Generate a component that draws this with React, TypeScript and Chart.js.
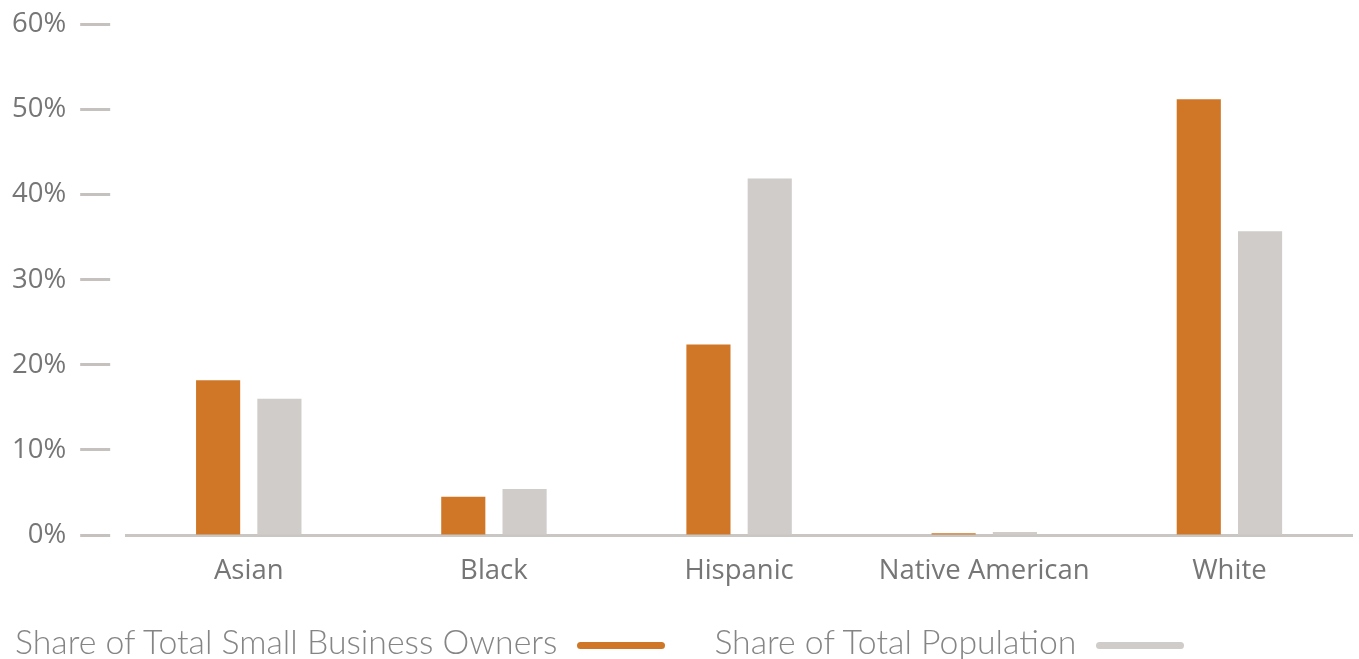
import React, { useEffect, useRef } from "react";
import { Chart, registerables } from "chart.js";

Chart.register(...registerables);

const categories = ["Asian", "Black", "Hispanic", "Native American", "White"];
const ownersShare = [18.2, 4.5, 22.4, 0.2, 51.2];
const populationShare = [16.0, 5.4, 41.9, 0.35, 35.7];
const seriesNames = ["Share of Total Small Business Owners", "Share of Total Population"];
const seriesColors = ["#D07727", "#CFCCC9"];
const yTicksMax = 60;
const yStep = 10;

export default function App() {
  const canvasRef = useRef<HTMLCanvasElement | null>(null);

  useEffect(() => {
    if (!canvasRef.current) return;
    const chart = new Chart(canvasRef.current, {
      type: "bar",
      data: {
        labels: categories,
        datasets: [
          {
            label: seriesNames[0],
            data: ownersShare,
            backgroundColor: seriesColors[0],
            categoryPercentage: 0.5,
            barPercentage: 0.72,
          },
          {
            label: seriesNames[1],
            data: populationShare,
            backgroundColor: seriesColors[1],
            categoryPercentage: 0.5,
            barPercentage: 0.72,
          },
        ],
      },
      options: {
        animation: false,
        responsive: true,
        maintainAspectRatio: false,
        layout: { padding: { top: 0, right: 7, bottom: 45, left: -2 } },
        plugins: {
          legend: { display: false },
          tooltip: { enabled: false },
        },
        scales: {
          x: {
            grid: { display: false, drawTicks: false },
            border: { display: true, color: "#C9C6C3", width: 3 },
            ticks: {
              color: "#767676",
              font: { family: "'Open Sans'", size: 27.5 },
              padding: 20,
            },
          },
          y: {
            min: 0,
            max: yTicksMax,
            grid: {
              drawOnChartArea: false,
              drawTicks: true,
              tickLength: 46,
              tickColor: "#C4C1BE",
              tickWidth: 3,
              tickBorderDash: [30, 100],
            },
            border: { display: false },
            ticks: {
              stepSize: yStep,
              color: "#767676",
              font: { family: "'Open Sans'", size: 27.5 },
              padding: 14,
              callback: (v: any) => v + "%",
            },
          },
        },
      },
    });
    return () => chart.destroy();
  }, []);

  const legendText: React.CSSProperties = {
    fontFamily: "Lato, 'Open Sans', sans-serif",
    fontWeight: 300,
    fontSize: 33.8,
    color: "#858585",
    whiteSpace: "nowrap",
  };
  const swatch = (c: string): React.CSSProperties => ({
    display: "inline-block",
    width: 88,
    height: 7,
    borderRadius: 4,
    background: c,
    marginLeft: 20,
    marginTop: 8,
  });

  return (
    <div style={{ position: "fixed", left: 0, top: 0, width: 1359, height: 659, background: "#fff", overflow: "hidden" }}>
      <div style={{ position: "absolute", left: 0, top: -6, width: 1359, height: 659 }}>
        <canvas ref={canvasRef} />
      </div>
      <div
        style={{
          position: "absolute",
          left: 15,
          top: 619,
          display: "flex",
          alignItems: "center",
          height: 44,
        }}
      >
        {seriesNames.map((n, i) => (
          <div key={n} style={{ display: "flex", alignItems: "center", marginRight: 49 }}>
            <span style={legendText}>{n}</span>
            <span style={swatch(seriesColors[i])} />
          </div>
        ))}
      </div>
    </div>
  );
}
